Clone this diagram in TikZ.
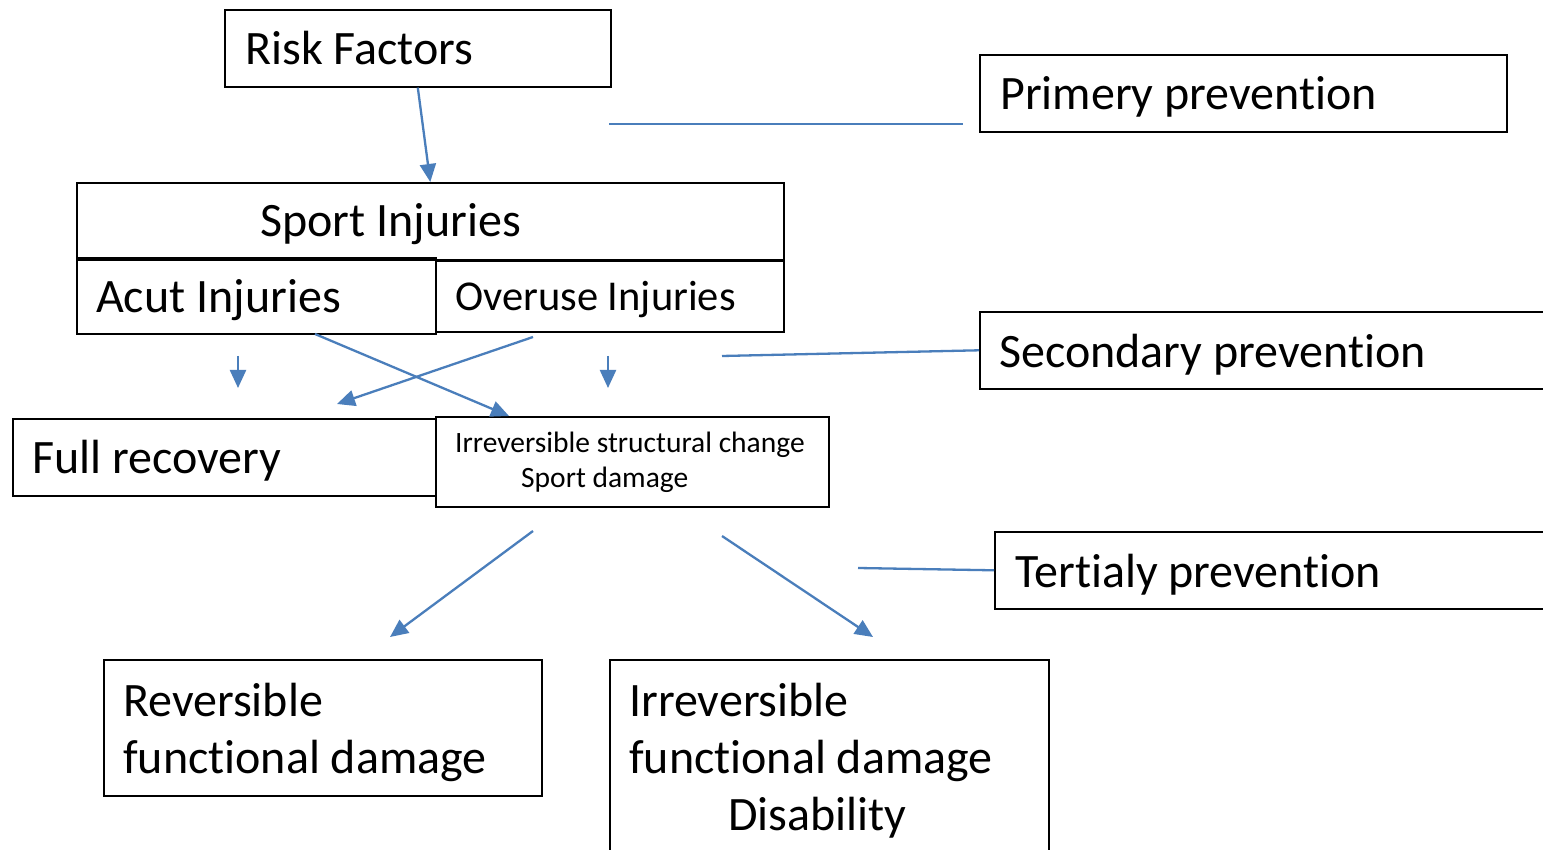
\documentclass[tikz,border=0pt]{standalone}
\usepackage{fontspec}
\setmainfont{Carlito}[Ligatures=NoCommon]
\usetikzlibrary{arrows.meta}
\definecolor{ablue}{HTML}{4A7EBB}
\begin{document}
\begin{tikzpicture}[x=1pt,y=-1pt,
  box/.style={draw=black, line width=1.6pt, rectangle, inner sep=0pt, anchor=north west},
  big/.style={font=\fontsize{48}{56}\selectfont, inner sep=0pt, anchor=base west},
  mid/.style={font=\fontsize{42.5}{50}\selectfont, inner sep=0pt, anchor=base west},
  small/.style={font=\fontsize{29.5}{34}\selectfont, inner sep=0pt, anchor=base west},
  conn/.style={draw=ablue, line width=2.3pt},
  arr/.style={conn, -{Triangle[length=18pt,width=16pt]}}]
\useasboundingbox (0,0) rectangle (1543,850);
\clip (0,0) rectangle (1543,850);
\fill[white] (0,0) rectangle (1543,850);

% boxes
\node[box, minimum width=386pt, minimum height=77pt] (risk) at (224,9) {};
\node[box, minimum width=527pt, minimum height=77pt] (prim) at (979,54) {};
\node[box, minimum width=707pt, minimum height=77pt] (sport) at (76,182) {};
\node[box, minimum width=348pt, minimum height=71pt] (over) at (435,260) {};
\node[box, minimum width=359pt, minimum height=76pt] (acut) at (76,257) {};
\node[box, minimum width=620pt, minimum height=77pt] (sec) at (979,311) {};
\node[box, minimum width=423pt, minimum height=77pt] (full) at (12,418) {};
\node[box, minimum width=393pt, minimum height=90pt] (irrs) at (435,416) {};
\node[box, minimum width=620pt, minimum height=77pt] (tert) at (994,531) {};
\node[box, minimum width=438pt, minimum height=136pt] (rev) at (103,659) {};
\node[box, minimum width=439pt, minimum height=250pt] (irrf) at (609,659) {};

% texts
\node[big] (t-risk) at (245,65) {Risk Factors};
\node[big] (t-prim) at (1000,110) {Primery prevention};
\node[big] (t-sport) at (260,237) {Sport Injuries};
\node[big] (t-acut) at (96,313) {Acut Injuries};
\node[mid] (t-over) at (455,311) {Overuse Injuries};
\node[big] (t-sec) at (999,367) {Secondary prevention};
\node[big] (t-full) at (32,473) {Full recovery};
\node[small] (t-irrs1) at (455,452) {Irreversible structural change};
\node[small] (t-irrs2) at (521,487) {Sport damage};
\node[big] (t-tert) at (1015,587) {Tertialy prevention};
\node[big] (t-rev1) at (123,716) {Reversible};
\node[big] (t-rev2) at (123,773) {functional damage};
\node[big] (t-irrf1) at (629,716) {Irreversible};
\node[big] (t-irrf2) at (629,773) {functional damage};
\node[big] (t-irrf3) at (728,830) {Disability};

% free connector ends
\coordinate (p1) at (609,124);
\coordinate (p2) at (963,124);
\coordinate (s1) at (722,356);
\coordinate (t1) at (858,568);
\coordinate (da1) at (238,356);
\coordinate (da2) at (238,388);
\coordinate (do1) at (608,356);
\coordinate (do2) at (608,388);
\coordinate (x1a) at (315,334);
\coordinate (x1b) at (509,416);
\coordinate (x2a) at (533,337);
\coordinate (x2b) at (337,404);
\coordinate (r1a) at (533,531);
\coordinate (r1b) at (390,637);
\coordinate (r2a) at (722,536);
\coordinate (r2b) at (873,637);

% connectors
\draw[arr] (risk.south) -- (sport.north);
\draw[conn, line width=1.6pt] (p1) -- (p2);
\draw[conn] (s1) -- (sec.west);
\draw[conn] (t1) -- (tert.west);
\draw[arr] (da1) -- (da2);
\draw[arr] (do1) -- (do2);
\draw[arr] (x1a) -- (x1b);
\draw[arr] (x2a) -- (x2b);
\draw[arr] (r1a) -- (r1b);
\draw[arr] (r2a) -- (r2b);
\end{tikzpicture}
\end{document}
